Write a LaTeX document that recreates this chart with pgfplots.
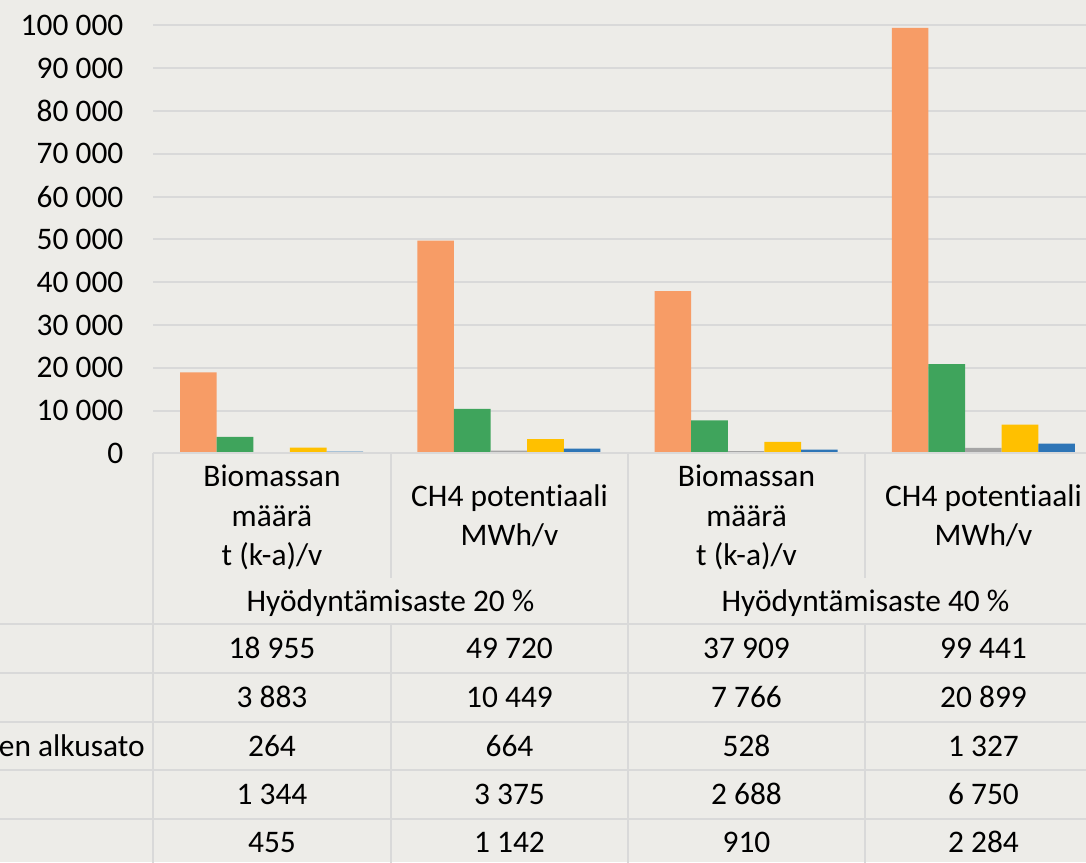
\documentclass[border=0pt]{standalone}
\usepackage{pgfplots}
\pgfplotsset{compat=1.18}
\usepackage{fontspec}
\setmainfont{Carlito}[Ligatures={NoCommon}]
\definecolor{bg}{HTML}{EDECE8}
\definecolor{gridc}{HTML}{D9D9D9}
\definecolor{cOr}{HTML}{F79C66}
\definecolor{cGr}{HTML}{3FA45C}
\definecolor{cGy}{HTML}{A5A5A5}
\definecolor{cYe}{HTML}{FFC000}
\definecolor{cBl}{HTML}{2E75B6}
\begin{document}
\begin{tikzpicture}[font=\fontsize{15.7}{19.75}\selectfont]
\useasboundingbox (0,0) rectangle (543pt,431pt);
\clip (0,0) rectangle (543pt,431pt);
\fill[bg] (0,0) rectangle (543pt,431pt);
\begin{axis}[
 at={(76.5pt,204.25pt)}, anchor=south west,
 scale only axis, width=474.5pt, height=214pt,
 xmin=-0.5, xmax=3.5, ymin=0, ymax=100000,
 clip=false,
 ybar=0pt, bar width=18.3pt,
 axis line style={draw=none},
 xtick=\empty,
 ytick={0,10000,20000,30000,40000,50000,60000,70000,80000,90000,100000},
 yticklabels={0,10 000,20 000,30 000,40 000,50 000,60 000,70 000,80 000,90 000,100 000},
 ymajorgrids, grid style={gridc, line width=1pt},
 major tick length=0pt,
 scaled y ticks=false,
 yticklabel style={xshift=-11.3pt, text=black},
]
\addplot[fill=cOr, draw=none] coordinates {(0,18955) (1,49720) (2,37909) (3,99441)};
\addplot[fill=cGr, draw=none] coordinates {(0,3883) (1,10449) (2,7766) (3,20899)};
\addplot[fill=cGy, draw=none] coordinates {(0,264) (1,664) (2,528) (3,1327)};
\addplot[fill=cYe, draw=none] coordinates {(0,1344) (1,3375) (2,2688) (3,6750)};
\addplot[fill=cBl, draw=none] coordinates {(0,455) (1,1142) (2,910) (3,2284)};
\end{axis}
\begin{scope}[x=0.5pt,y=-0.5pt,shift={(0,431pt)}]
 \begin{scope}[gridc, line width=1pt]
 \draw (153,453.5) -- (1120,453.5);
 \draw (153,453.5) -- (153,880);
 \draw (628,453.5) -- (628,880);
 \draw (391,453.5) -- (391,578);
 \draw (865,453.5) -- (865,578);
 \draw (391,624.5) -- (391,880);
 \draw (865,624.5) -- (865,880);
 \foreach \yy in {624.5,673,721.5,770,818.5}
   \draw (0,\yy) -- (1120,\yy);
 \end{scope}
 % category labels
 \node[anchor=base] at (272,487) {Biomassan};
 \node[anchor=base] at (272,527) {määrä};
 \node[anchor=base] at (272,566) {t (k-a)/v};
 \node[anchor=base] at (509.5,507) {CH4 potentiaali};
 \node[anchor=base] at (509.5,546) {MWh/v};
 \node[anchor=base] at (746.5,487) {Biomassan};
 \node[anchor=base] at (746.5,527) {määrä};
 \node[anchor=base] at (746.5,566) {t (k-a)/v};
 \node[anchor=base] at (983.5,507) {CH4 potentiaali};
 \node[anchor=base] at (983.5,546) {MWh/v};
 % group labels
 \node[anchor=base] at (390.5,612) {Hyödyntämisaste 20 \%};
 \node[anchor=base] at (865.5,612) {Hyödyntämisaste 40 \%};
 % series name fragment
 \node[anchor=base east, inner sep=0pt] at (145,756) {en alkusato};
 % data table values
 \node[anchor=base] at (272,659) {18 955};
 \node[anchor=base] at (509.5,659) {49 720};
 \node[anchor=base] at (746.5,659) {37 909};
 \node[anchor=base] at (983.5,659) {99 441};
 \node[anchor=base] at (272,707) {3 883};
 \node[anchor=base] at (509.5,707) {10 449};
 \node[anchor=base] at (746.5,707) {7 766};
 \node[anchor=base] at (983.5,707) {20 899};
 \node[anchor=base] at (272,756) {264};
 \node[anchor=base] at (509.5,756) {664};
 \node[anchor=base] at (746.5,756) {528};
 \node[anchor=base] at (983.5,756) {1 327};
 \node[anchor=base] at (272,804) {1 344};
 \node[anchor=base] at (509.5,804) {3 375};
 \node[anchor=base] at (746.5,804) {2 688};
 \node[anchor=base] at (983.5,804) {6 750};
 \node[anchor=base] at (272,852) {455};
 \node[anchor=base] at (509.5,852) {1 142};
 \node[anchor=base] at (746.5,852) {910};
 \node[anchor=base] at (983.5,852) {2 284};
\end{scope}
\end{tikzpicture}
\end{document}
